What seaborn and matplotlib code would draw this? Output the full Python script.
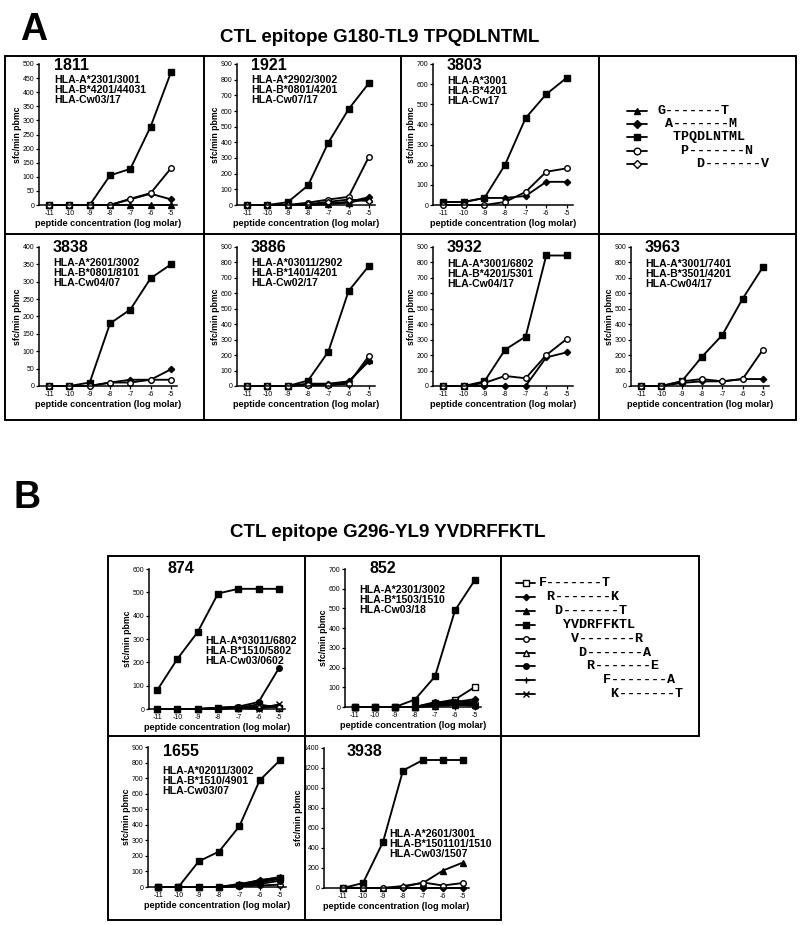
import numpy as np
import pandas as pd
import matplotlib
matplotlib.use('Agg')
import matplotlib.pyplot as plt
import seaborn as sns
from matplotlib.lines import Line2D

# x values: peptide concentration (log molar)
conc = [-11, -10, -9, -8, -7, -6, -5]

# ---- panel A: CTL epitope G180-TL9 TPQDLNTML ----
pep_a = ['G-------T', 'A-------M', 'TPQDLNTML', 'P-------N', 'D-------V']
shift_a = [0, 1, 2, 3, 5]

s1811 = {'G-------T': [0, 0, 0, 0, 0, 0, 0],
         'A-------M': [0, 0, 0, 0, 20, 40, 20],
         'TPQDLNTML': [0, 0, 0, 105, 128, 278, 470],
         'P-------N': [0, 0, 0, 0, 22, 42, 130]}
s1921 = {'G-------T': [0, 0, 0, 0, 5, 15, 40],
         'A-------M': [0, 0, 0, 0, 10, 20, 50],
         'TPQDLNTML': [0, 0, 18, 125, 398, 612, 778],
         'P-------N': [0, 0, 0, 15, 35, 52, 308],
         'D-------V': [0, 0, 0, 5, 20, 35, 25]}
s3803 = {'A-------M': [15, 15, 35, 35, 45, 115, 115],
         'TPQDLNTML': [15, 15, 35, 200, 432, 550, 632],
         'P-------N': [0, 0, 0, 15, 65, 165, 182]}
s3838 = {'A-------M': [0, 0, 0, 10, 18, 18, 48],
         'TPQDLNTML': [0, 0, 10, 180, 220, 310, 350],
         'P-------N': [0, 0, 0, 10, 10, 18, 18]}
s3886 = {'G-------T': [0, 0, 0, 10, 10, 25, 170],
         'A-------M': [0, 0, 0, 15, 15, 30, 160],
         'TPQDLNTML': [0, 0, 0, 35, 222, 615, 778],
         'P-------N': [0, 0, 0, 5, 5, 15, 195]}
s3932 = {'A-------M': [0, 0, 0, 0, 0, 185, 218],
         'TPQDLNTML': [0, 0, 30, 235, 320, 845, 845],
         'P-------N': [0, 0, 20, 65, 50, 200, 305]}
s3963 = {'A-------M': [0, 0, 20, 30, 30, 45, 45],
         'TPQDLNTML': [0, 0, 30, 190, 330, 565, 770],
         'P-------N': [0, 0, 30, 45, 30, 45, 235]}

# ---- panel B: CTL epitope G296-YL9 YVDRFFKTL ----
pep_b = ['F-------T', 'R-------K', 'D-------T', 'YVDRFFKTL', 'V-------R',
         'D-------A', 'R-------E', 'F-------A', 'K-------T']
shift_b = [0, 1, 2, 3, 4, 5, 6, 8, 9]

s874 = {'F-------T': [0, 0, 0, 5, 5, 20, 5],
        'D-------T': [0, 0, 0, 0, 5, 10, 15],
        'YVDRFFKTL': [80, 215, 330, 495, 515, 515, 515],
        'V-------R': [0, 0, 0, 5, 10, 5, 10],
        'R-------E': [0, 0, 0, 5, 10, 30, 175],
        'K-------T': [0, 0, 0, 0, 5, 0, 20]}
s852 = {'F-------T': [0, 0, 0, 0, 20, 38, 102],
        'R-------K': [0, 0, 0, 0, 25, 25, 40],
        'D-------T': [0, 0, 0, 0, 15, 20, 30],
        'YVDRFFKTL': [0, 0, 0, 38, 155, 490, 645],
        'V-------R': [0, 0, 0, 0, 10, 15, 20],
        'D-------A': [0, 0, 0, 0, 5, 10, 10],
        'R-------E': [0, 0, 0, 0, 10, 15, 5],
        'F-------A': [0, 0, 0, 0, 5, 20, 15],
        'K-------T': [0, 0, 0, 0, 20, 30, 25]}
s1655 = {'F-------T': [0, 0, 0, 0, 10, 30, 55],
         'R-------K': [0, 0, 0, 0, 15, 45, 60],
         'D-------T': [0, 0, 0, 0, 20, 40, 65],
         'YVDRFFKTL': [0, 0, 165, 228, 390, 685, 815],
         'V-------R': [0, 0, 0, 0, 5, 10, 15],
         'R-------E': [0, 0, 0, 0, 5, 20, 40],
         'K-------T': [0, 0, 0, 0, 10, 35, 50]}
s3938 = {'R-------K': [5, 0, 0, 0, 0, 0, 0],
         'D-------T': [0, 0, 0, 20, 50, 175, 255],
         'YVDRFFKTL': [0, 50, 460, 1175, 1280, 1280, 1280],
         'V-------R': [0, 0, 0, 10, 55, 25, 50]}

# marker styles (marker, filled)
style = {'G-------T': ('^', True), 'A-------M': ('D', True), 'TPQDLNTML': ('s', True),
         'P-------N': ('o', False), 'D-------V': ('D', False),
         'F-------T': ('s', False), 'R-------K': ('D', True), 'D-------T': ('^', True),
         'YVDRFFKTL': ('s', True), 'V-------R': ('o', False), 'D-------A': ('^', False),
         'R-------E': ('o', True), 'F-------A': ('+', True), 'K-------T': ('x', True)}

W, H = 800, 925
sns.set_style('white')
plt.rcParams['font.family'] = ['Liberation Sans', 'DejaVu Sans']
plt.rcParams['text.color'] = 'black'
plt.rcParams['axes.labelcolor'] = 'black'
fig = plt.figure(figsize=(W / 100, H / 100), dpi=100)


def fx(x):
    return x / W


def fy(y):
    return 1 - y / H


def hline(x0, x1, y):
    fig.add_artist(Line2D([fx(x0), fx(x1)], [fy(y), fy(y)], color='black', lw=1.4))


def vline(x, y0, y1):
    fig.add_artist(Line2D([fx(x), fx(x)], [fy(y0), fy(y1)], color='black', lw=1.4))


def msize(m):
    return {'D': 3.2, '+': 4.8, 'x': 3.8}.get(m, 4.0)


def panel(series, pos, xmin, ymax, ystep, name, hla, name_xy, hla_xy):
    l, t, r, b = pos
    ax = fig.add_axes([fx(l), fy(b), (r - l) / W, (b - t) / H])
    for pep, vals in series.items():
        m, filled = style[pep]
        sns.lineplot(x=conc, y=vals, ax=ax, color='black', lw=1.35, marker=m,
                     markersize=msize(m), markerfacecolor='black' if filled else 'white',
                     markeredgecolor='black', markeredgewidth=1.0, clip_on=False)
    ax.set_xlim(xmin, -4.7)
    ax.set_ylim(0, ymax)
    ax.set_xticks(conc)
    ax.set_xticklabels([str(c) for c in conc])
    ax.set_yticks(np.arange(0, ymax + 1, ystep))
    for s in ['top', 'right']:
        ax.spines[s].set_visible(False)
    for s in ['left', 'bottom']:
        ax.spines[s].set_linewidth(1.1)
        ax.spines[s].set_color('black')
    ax.tick_params(axis='both', labelsize=5, length=2, width=0.9, pad=1.5,
                   direction='out', left=True, bottom=True, colors='black')
    ax.set_xlabel('peptide concentration (log molar)', fontsize=6.6, fontweight='bold', labelpad=1.5)
    ax.set_ylabel('sfc/min pbmc', fontsize=6.3, fontweight='bold', labelpad=0.5)
    fig.text(fx(name_xy[0]), fy(name_xy[1]), name, fontsize=11.5, fontweight='bold', va='baseline')
    for i, h in enumerate(hla):
        fig.text(fx(hla_xy[0]), fy(hla_xy[1] + 10 * i), h, fontsize=7.6, fontweight='bold',
                 va='baseline')
    return ax


def legend_box(peps, shifts, y0, dy, lx0, lx1, tx, fs, ms_add):
    for i, (pep, sh) in enumerate(zip(peps, shifts)):
        y = y0 + dy * i
        m, filled = style[pep]
        fig.add_artist(Line2D([fx(lx0), fx(lx1)], [fy(y), fy(y)], color='black', lw=1.3))
        fig.add_artist(Line2D([fx((lx0 + lx1) / 2)], [fy(y)], color='black', marker=m,
                              markersize=msize(m) + ms_add,
                              markerfacecolor='black' if filled else 'white',
                              markeredgecolor='black', markeredgewidth=1.0))
        fig.text(fx(tx), fy(y), ' ' * sh + pep, fontsize=fs, fontweight='bold',
                 family=['Liberation Mono', 'DejaVu Sans Mono'], va='center')


# ---------- panel A ----------
fig.text(fx(20), fy(40), 'A', fontsize=27, fontweight='bold', va='baseline')
fig.text(fx(380), fy(42), 'CTL epitope G180-TL9 TPQDLNTML', fontsize=13.5,
         fontweight='bold', ha='center', va='baseline')

cols_a = [5, 204, 401, 599, 796]
rows_a = [56, 234, 420]
for y in rows_a:
    hline(cols_a[0], cols_a[-1], y)
for x in cols_a:
    vline(x, rows_a[0], rows_a[-1])

row1 = (64, 205)
row2 = (247, 386)
panel(s1811, (39, row1[0], 177, row1[1]), -11.5, 500, 50, '1811',
      ['HLA-A*2301/3001', 'HLA-B*4201/44031', 'HLA-Cw03/17'], (54, 70), (54, 83))
panel(s1921, (237, row1[0], 375, row1[1]), -11.5, 900, 100, '1921',
      ['HLA-A*2902/3002', 'HLA-B*0801/4201', 'HLA-Cw07/17'], (251, 70), (251, 83))
panel(s3803, (433, row1[0], 573, row1[1]), -11.5, 700, 100, '3803',
      ['HLA-A*3001', 'HLA-B*4201', 'HLA-Cw17'], (447, 70), (447, 84))
legend_box(pep_a, shift_a, 111, 13.2, 627, 647, 657, 9.6, 0.8)

panel(s3838, (39, row2[0], 177, row2[1]), -11.5, 400, 50, '3838',
      ['HLA-A*2601/3002', 'HLA-B*0801/8101', 'HLA-Cw04/07'], (53, 252), (53, 266))
panel(s3886, (237, row2[0], 375, row2[1]), -11.5, 900, 100, '3886',
      ['HLA-A*03011/2902', 'HLA-B*1401/4201', 'HLA-Cw02/17'], (251, 252), (251, 266))
panel(s3932, (433, row2[0], 573, row2[1]), -11.5, 900, 100, '3932',
      ['HLA-A*3001/6802', 'HLA-B*4201/5301', 'HLA-Cw04/17'], (447, 252), (447, 267))
panel(s3963, (631, row2[0], 769, row2[1]), -11.5, 900, 100, '3963',
      ['HLA-A*3001/7401', 'HLA-B*3501/4201', 'HLA-Cw04/17'], (645, 252), (645, 267))

# ---------- panel B ----------
fig.text(fx(14), fy(508), 'B', fontsize=27, fontweight='bold', va='baseline')
fig.text(fx(388), fy(537), 'CTL epitope G296-YL9 YVDRFFKTL', fontsize=13.5,
         fontweight='bold', ha='center', va='baseline')

hline(108, 699, 556)
hline(108, 699, 736)
hline(108, 501, 920)
vline(108, 556, 920)
vline(305, 556, 920)
vline(501, 556, 920)
vline(699, 556, 736)

panel(s874, (149, 569, 285, 709), -11.4, 600, 100, '874',
      ['HLA-A*03011/6802', 'HLA-B*1510/5802', 'HLA-Cw03/0602'], (167, 573), (205, 644))
panel(s852, (345, 569, 481, 707), -11.5, 700, 100, '852',
      ['HLA-A*2301/3002', 'HLA-B*1503/1510', 'HLA-Cw03/18'], (370, 573), (359, 593))
legend_box(pep_b, shift_b, 583, 13.9, 516, 535, 539, 9.6, 0.0)
panel(s1655, (148, 747, 286, 887), -11.5, 900, 100, '1655',
      ['HLA-A*02011/3002', 'HLA-B*1510/4901', 'HLA-Cw03/07'], (163, 756), (162, 774))
panel(s3938, (324, 748, 469, 888), -11.95, 1400, 200, '3938',
      ['HLA-A*2601/3001', 'HLA-B*1501101/1510', 'HLA-Cw03/1507'], (347, 756), (389, 837))

fig.savefig('out.png', dpi=100)
